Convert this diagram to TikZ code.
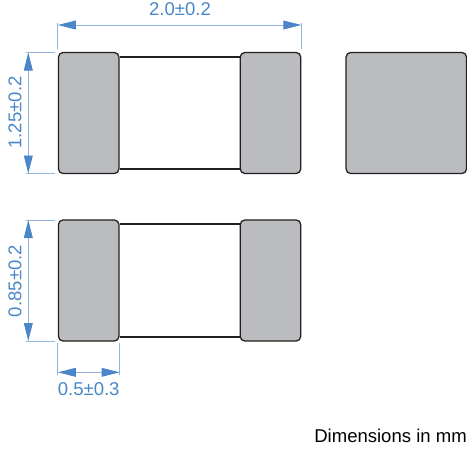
\documentclass[tikz,border=0pt]{standalone}
\usepackage{fontspec}
\setmainfont{Liberation Sans}
\usetikzlibrary{arrows.meta}
\definecolor{dimblue}{HTML}{4A86C8}
\definecolor{extblue}{HTML}{8FB3DF}
\definecolor{capgray}{HTML}{BBBCBF}
\definecolor{edgeblack}{HTML}{231F20}
\tikzset{
	capbox/.style={draw=edgeblack, fill=capgray, line width=0.95pt, rounded corners=3.5pt, minimum width=45.4pt, minimum height=90.8pt, inner sep=0pt},
	squarebox/.style={capbox, minimum width=90.4pt},
	bodyline/.style={edgeblack, line width=0.95pt},
	extline/.style={extblue, line width=0.6pt},
	dimline/.style={extblue, line width=0.7pt, {Triangle[length=13.5pt,width=6.6pt,color=dimblue]}-{Triangle[length=13.5pt,width=6.6pt,color=dimblue]}},
	dimtext/.style={text=dimblue, font=\fontsize{13.9pt}{16pt}\selectfont, inner sep=0pt},
}
\begin{document}
\begin{tikzpicture}[x=0.75pt, y=-0.75pt]
	\useasboundingbox (0,0) rectangle (467,451);

	% upper part
	\node[capbox] (capUL) at (88.7,113) {};
	\node[capbox] (capUR) at (270.5,113) {};
	\node[squarebox] (capSide) at (406.3,113) {};
	\draw[bodyline] (capUL.east |- 0,57) -- (capUR.west |- 0,57);
	\draw[bodyline] (capUL.east |- 0,169) -- (capUR.west |- 0,169);

	% lower part
	\node[capbox] (capLL) at (88.7,280.5) {};
	\node[capbox] (capLR) at (270.5,280.5) {};
	\draw[bodyline] (capLL.east |- 0,224) -- (capLR.west |- 0,224);
	\draw[bodyline] (capLL.east |- 0,337) -- (capLR.west |- 0,337);

	% width
	\coordinate (wL) at (capUL.west |- 0,25);
	\coordinate (wR) at (capUR.east |- 0,25);
	\draw[extline] (capUL.west |- 0,22.5) -- (capUL.west |- 0,49);
	\draw[extline] (capUR.east |- 0,22.5) -- (capUR.east |- 0,49);
	\draw[dimline] (wL) -- (wR);
	\node[dimtext] (wText) at (180,9.5) {2.0±0.2};

	% heights
	\coordinate (hUT) at (28.3,52.5);
	\coordinate (hUB) at (28.3,173.5);
	\draw[extline] (26,52.5) -- (55,52.5);
	\draw[extline] (26,173.5) -- (55,173.5);
	\draw[dimline] (hUT) -- (hUB);
	\node[dimtext, rotate=90] (hUText) at (15,112.5) {1.25±0.2};

	\coordinate (hLT) at (28.3,220);
	\coordinate (hLB) at (28.3,341);
	\draw[extline] (26,220) -- (55,220);
	\draw[extline] (26,341) -- (55,341);
	\draw[dimline] (hLT) -- (hLB);
	\node[dimtext, rotate=90] (hLText) at (15,281) {0.85±0.2};

	% terminal
	\coordinate (tL) at (capLL.west |- 0,372.3);
	\coordinate (tR) at (capLL.east |- 0,372.3);
	\draw[extline] (capLL.west |- 0,343) -- (capLL.west |- 0,375);
	\draw[extline] (capLL.east |- 0,343) -- (capLL.east |- 0,375);
	\draw[dimline] (tL) -- (tR);
	\node[dimtext] (tText) at (88.7,389.5) {0.5±0.3};

	\node[inner sep=0pt, anchor=east, font=\fontsize{13.9pt}{16pt}\selectfont] (unitText) at (467,436) {Dimensions in mm};
\end{tikzpicture}
\end{document}
